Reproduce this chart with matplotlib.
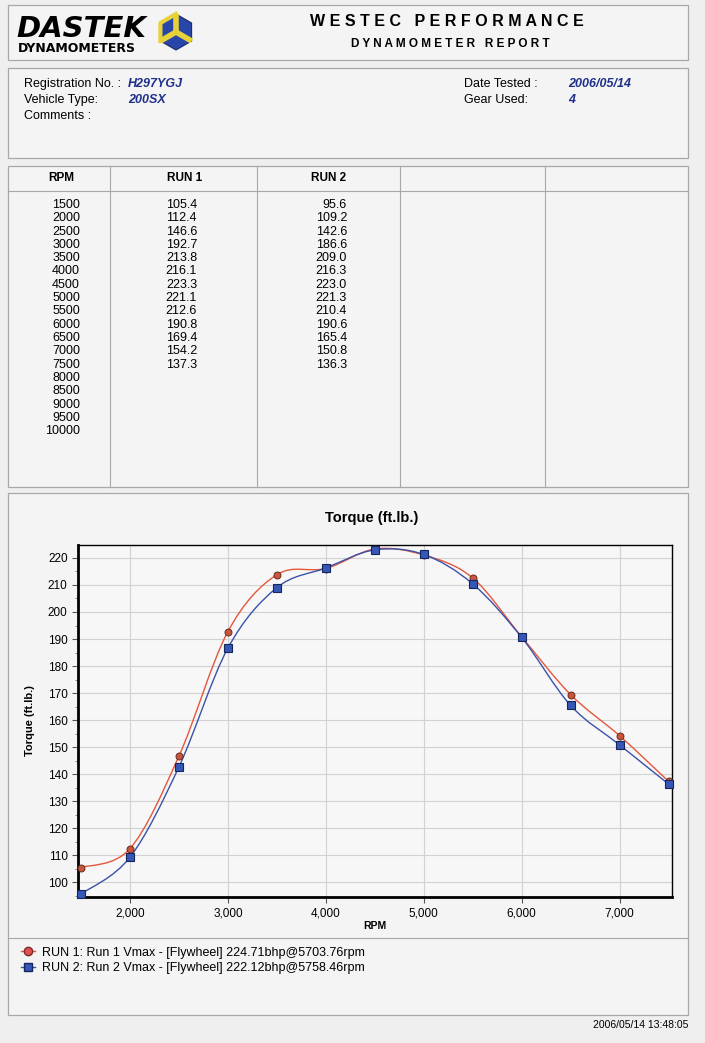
import matplotlib
matplotlib.use("Agg")
import matplotlib.pyplot as plt
import numpy as np
from matplotlib.lines import Line2D
from matplotlib.patches import PathPatch, Polygon, Rectangle
from matplotlib.path import Path
from matplotlib.ticker import FuncFormatter, MultipleLocator

plt.rcParams["font.family"] = ["Liberation Sans", "DejaVu Sans"]

# ---- data ----
rpm = [1500, 2000, 2500, 3000, 3500, 4000, 4500, 5000, 5500, 6000, 6500, 7000, 7500]
run1 = [105.4, 112.4, 146.6, 192.7, 213.8, 216.1, 223.3, 221.1, 212.6, 190.8, 169.4, 154.2, 137.3]
run2 = [95.6, 109.2, 142.6, 186.6, 209.0, 216.3, 223.0, 221.3, 210.4, 190.6, 165.4, 150.8, 136.3]
table_rpm = [1500, 2000, 2500, 3000, 3500, 4000, 4500, 5000, 5500,
             6000, 6500, 7000, 7500, 8000, 8500, 9000, 9500, 10000]
x_ticks = [2000, 3000, 4000, 5000, 6000, 7000]
y_ticks = [100, 110, 120, 130, 140, 150, 160, 170, 180, 190, 200, 210, 220]

info_left = [("Registration No. :", "H297YGJ"), ("Vehicle Type:", "200SX"), ("Comments :", "")]
info_right = [("Date Tested :", "2006/05/14"), ("Gear Used:", "4")]
legend_labels = ["RUN 1: Run 1 Vmax - [Flywheel] 224.71bhp@5703.76rpm",
                 "RUN 2: Run 2 Vmax - [Flywheel] 222.12bhp@5758.46rpm"]
stamp = "2006/05/14 13:48:05"

W, H = 705, 1043
PAGE = "#efefef"
BOX = "#f4f4f4"
EDGE = "#a8a8a8"
RED_LINE = "#e4573c"
RED_FILL = "#c8553f"
BLUE_LINE = "#3a52a8"
BLUE_FILL = "#3557b5"
INK_BLUE = "#1f2f8a"


def smooth_path(x, y):
    # Catmull-Rom through the measured points, drawn as cubic Bezier segments
    x = np.asarray(x, dtype=float)
    y = np.asarray(y, dtype=float)
    n = len(x)
    verts = [(x[0], y[0])]
    codes = [Path.MOVETO]
    for i in range(n - 1):
        a = max(i - 1, 0)
        d = min(i + 2, n - 1)
        c1 = (x[i] + (x[i + 1] - x[a]) / 6, y[i] + (y[i + 1] - y[a]) / 6)
        c2 = (x[i + 1] - (x[d] - x[i]) / 6, y[i + 1] - (y[d] - y[i]) / 6)
        verts += [c1, c2, (x[i + 1], y[i + 1])]
        codes += [Path.CURVE4] * 3
    return Path(verts, codes)


fig = plt.figure(figsize=(W / 100, H / 100), dpi=100, facecolor=PAGE)

# page overlay in pixel coordinates
pg = fig.add_axes([0, 0, 1, 1])
pg.set_xlim(0, W)
pg.set_ylim(H, 0)
pg.axis("off")


def box(x0, y0, x1, y1):
    pg.add_patch(Rectangle((x0, y0), x1 - x0, y1 - y0, facecolor=BOX,
                           edgecolor=EDGE, linewidth=0.9, zorder=1))


box(8, 5, 688, 60)
box(8, 68, 688, 158)
box(8, 166, 688, 487)
box(8, 493, 688, 1015)

# header logo
pg.text(16, 29, "DASTEK", fontsize=21, fontweight="heavy", style="italic",
        family="DejaVu Sans", va="center", ha="left", color="black", zorder=3)
pg.text(18, 48, "DYNAMOMETERS", fontsize=9, fontweight="heavy", family="DejaVu Sans",
        va="center", ha="left", color="black", zorder=3)
cx, cy, r = 176, 32, 18
hexv = [(cx + r * np.cos(np.radians(a)), cy - r * np.sin(np.radians(a)))
        for a in (90, 150, 210, 270, 330, 30)]
pg.add_patch(Polygon(hexv, closed=True, facecolor="#2846a8", edgecolor="#1a2a70",
                     linewidth=0.8, zorder=3))
for a in (90, 210, 330):
    pg.plot([cx, cx + r * np.cos(np.radians(a))], [cy, cy - r * np.sin(np.radians(a))],
            color="#e8d23a", linewidth=4, solid_capstyle="butt", zorder=4)
pg.plot([hexv[0][0], hexv[1][0], hexv[2][0]], [hexv[0][1], hexv[1][1], hexv[2][1]],
        color="#e8d23a", linewidth=3, zorder=4)

pg.text(447, 21, "W E S T E C   P E R F O R M A N C E", fontsize=11.5, fontweight="bold",
        ha="center", va="center", zorder=3)
pg.text(450, 44, "D Y N A M O M E T E R   R E P O R T", fontsize=8.5, fontweight="bold",
        ha="center", va="center", zorder=3)

# vehicle info
for i, (lab, val) in enumerate(info_left):
    y = 84 + i * 16
    pg.text(24, y, lab, fontsize=9, va="center", ha="left", zorder=3)
    if val:
        pg.text(128, y, val, fontsize=9, fontweight="bold", style="italic",
                color=INK_BLUE, va="center", ha="left", zorder=3)
for i, (lab, val) in enumerate(info_right):
    y = 84 + i * 16
    pg.text(464, y, lab, fontsize=9, va="center", ha="left", zorder=3)
    pg.text(568, y, val, fontsize=9, fontweight="bold", style="italic",
            color=INK_BLUE, va="center", ha="left", zorder=3)

# table
for xv in (110, 257, 400, 545):
    pg.plot([xv, xv], [166, 487], color=EDGE, linewidth=0.8, zorder=2)
pg.plot([8, 688], [191, 191], color=EDGE, linewidth=0.8, zorder=2)
for xc, lab in ((61, "RPM"), (185, "RUN 1"), (329, "RUN 2")):
    pg.text(xc, 178, lab, fontsize=8.5, fontweight="bold", ha="center", va="center", zorder=3)
for i, rv in enumerate(table_rpm):
    y = 205 + i * 13.3
    pg.text(80, y, str(rv), fontsize=9, ha="right", va="center", zorder=3)
for i, (a, b) in enumerate(zip(run1, run2)):
    y = 205 + i * 13.3
    pg.text(197, y, f"{a:.1f}", fontsize=9, ha="right", va="center", zorder=3)
    pg.text(347, y, f"{b:.1f}", fontsize=9, ha="right", va="center", zorder=3)

# chart
pg.text(372, 518, "Torque (ft.lb.)", fontsize=10.5, fontweight="bold",
        ha="center", va="center", zorder=3)
pg.plot([8, 688], [938, 938], color=EDGE, linewidth=0.8, zorder=2)

ax = fig.add_axes([78 / W, 1 - 897 / H, (672 - 78) / W, (897 - 545) / H])
ax.set_facecolor("#f7f7f7")
ax.set_xlim(1470, 7535)
ax.set_ylim(94.5, 224.8)
ax.set_xticks(x_ticks)
ax.set_yticks(y_ticks)
ax.yaxis.set_minor_locator(MultipleLocator(5))
ax.xaxis.set_major_formatter(FuncFormatter(lambda v, p: f"{int(v):,}"))
ax.grid(True, which="major", color="#d2d2d2", linewidth=0.8)
ax.set_axisbelow(True)
ax.tick_params(axis="both", labelsize=8.5, length=4, width=0.8, color="#555555")
ax.tick_params(axis="y", which="minor", length=2, width=0.6, color="#777777")
for side in ("left", "bottom"):
    ax.spines[side].set_linewidth(2.0)
for side in ("top", "right"):
    ax.spines[side].set_linewidth(1.0)
ax.set_xlabel("RPM", fontsize=7.5, fontweight="bold", labelpad=1)
ax.set_ylabel("Torque (ft.lb.)", fontsize=8, fontweight="bold", labelpad=9)

ax.add_patch(PathPatch(smooth_path(rpm, run1), facecolor="none", edgecolor=RED_LINE,
                       linewidth=1.0, zorder=3))
ax.add_patch(PathPatch(smooth_path(rpm, run2), facecolor="none", edgecolor=BLUE_LINE,
                       linewidth=1.0, zorder=3))
ax.plot(rpm, run1, linestyle="none", marker="o", markersize=5, markerfacecolor=RED_FILL,
        markeredgecolor="#6a2a1a", markeredgewidth=0.7, zorder=4, clip_on=False)
ax.plot(rpm, run2, linestyle="none", marker="s", markersize=6, markerfacecolor=BLUE_FILL,
        markeredgecolor="#15255e", markeredgewidth=0.8, zorder=5, clip_on=False)

handles = [
    Line2D([], [], color=RED_LINE, linewidth=1.0, marker="o", markersize=6,
           markerfacecolor="#e05050", markeredgecolor="#7a2a2a"),
    Line2D([], [], color=BLUE_LINE, linewidth=1.0, marker="s", markersize=6,
           markerfacecolor=BLUE_FILL, markeredgecolor="#15255e"),
]
pg.legend(handles, legend_labels, loc="upper left", bbox_to_anchor=(12 / W, 1 - 938 / H),
          bbox_transform=fig.transFigure, frameon=False, fontsize=9,
          handlelength=1.1, handletextpad=0.6, labelspacing=0.25, borderpad=0.2)

pg.text(688, 1025, stamp, fontsize=7.5, ha="right", va="center", zorder=3)

fig.savefig("out.png", dpi=100, facecolor=PAGE)
